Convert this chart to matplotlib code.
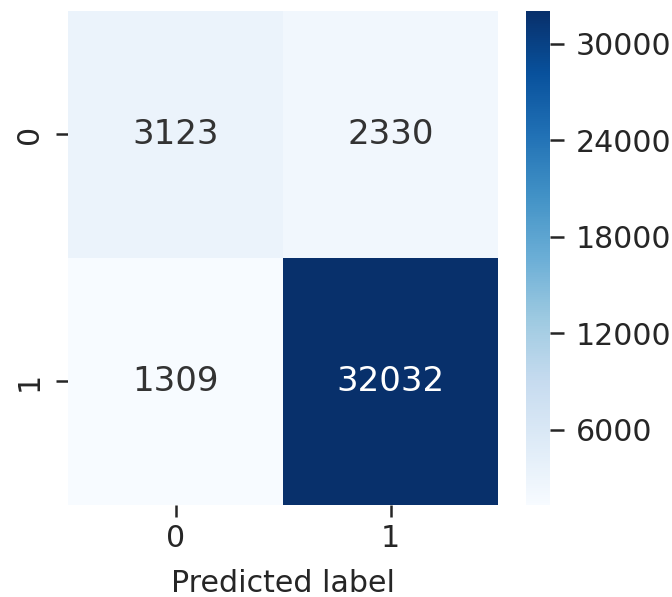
import numpy as np
import matplotlib
matplotlib.use("Agg")
import matplotlib.pyplot as plt
import seaborn as sns

# confusion matrix values
class_labels = ["0", "1"]
row_true0 = [3123, 2330]
row_true1 = [1309, 32032]
cbar_ticks = [6000, 12000, 18000, 24000, 30000]

cm = np.array([row_true0, row_true1])

sns.set_theme(style="white")
plt.rcParams['font.family'] = ['DejaVu Sans']

fig = plt.figure(figsize=(672 / 144, 597 / 144), dpi=144)
ax = fig.add_axes([0.1012, 0.1541, 0.6399, 0.8275])
cax = fig.add_axes([0.7827, 0.1541, 0.0357, 0.8275])

sns.heatmap(cm, annot=True, fmt="d", cmap="Blues", ax=ax, cbar_ax=cax,
            xticklabels=class_labels, yticklabels=class_labels,
            annot_kws={"size": 17, "color": None})

# light cells get a softer grey text, like the reference
for txt, val in zip(ax.texts, cm.flatten()):
    txt.set_color("white" if val > 20000 else "#333333")

ax.set_xlabel("Predicted label", fontsize=15, color=".15", labelpad=8)
ax.tick_params(axis="both", length=6, width=1.25, color=".15",
               labelsize=15, labelcolor=".15", left=True, bottom=True)
ax.tick_params(axis="y", pad=6)
plt.setp(ax.get_yticklabels(), rotation=90, va="center")
plt.setp(ax.get_xticklabels(), rotation=0)

cax.set_yticks(cbar_ticks)
cax.set_yticklabels([str(t) for t in cbar_ticks])
cax.tick_params(axis="y", length=7, width=1.25, color=".15", right=True,
                labelsize=15, labelcolor=".15", pad=6)

fig.savefig("out.png", dpi=144)
